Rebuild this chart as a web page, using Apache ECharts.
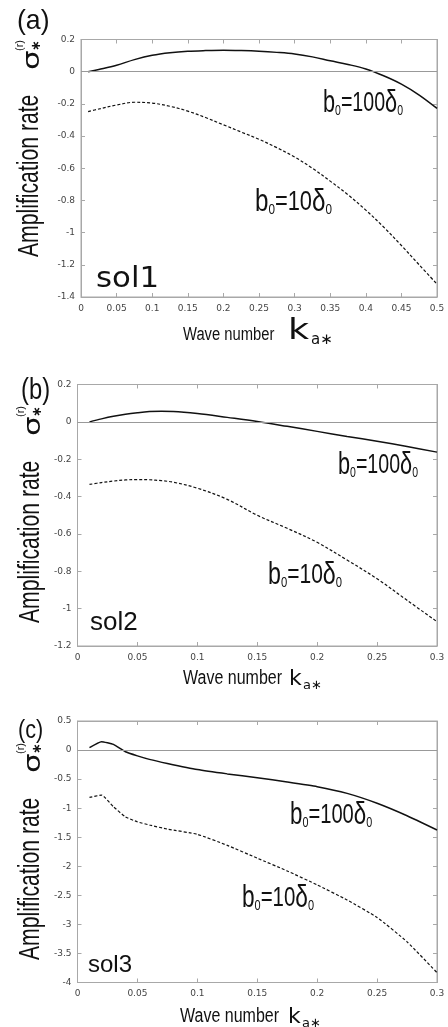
<!DOCTYPE html>
<html><head><meta charset="utf-8">
<script src="https://cdn.jsdelivr.net/npm/echarts@6/dist/echarts.min.js"></script>
<style>html,body{margin:0;padding:0;background:#fff}#c{width:448px;height:1027px}</style>
</head><body><div id="c"></div>
<script>
// ---- data ----
const kA = [0.01,0.025,0.05,0.075,0.1,0.125,0.15,0.175,0.2,0.225,0.25,0.275,0.3,0.325,0.35,0.375,0.4,0.425,0.45,0.475,0.5];
const solA_b100 = [0,0.014,0.040,0.075,0.102,0.118,0.127,0.131,0.133,0.131,0.127,0.120,0.110,0.092,0.068,0.045,0.017,-0.025,-0.077,-0.145,-0.228];
const solA_b10  = [-0.248,-0.232,-0.207,-0.190,-0.195,-0.215,-0.245,-0.285,-0.330,-0.375,-0.420,-0.472,-0.530,-0.600,-0.680,-0.765,-0.860,-0.965,-1.080,-1.200,-1.320];

const kB = [0.01,0.02,0.03,0.04,0.05,0.06,0.07,0.08,0.1,0.125,0.15,0.175,0.2,0.225,0.25,0.275,0.3];
const solB_b100 = [0,0.016,0.030,0.041,0.049,0.055,0.057,0.056,0.045,0.024,0.002,-0.024,-0.051,-0.078,-0.104,-0.132,-0.162];
const solB_b10  = [-0.335,-0.325,-0.317,-0.311,-0.309,-0.310,-0.315,-0.323,-0.355,-0.415,-0.500,-0.570,-0.645,-0.740,-0.840,-0.955,-1.070];

const kC = [0.01,0.02,0.03,0.04,0.05,0.06,0.075,0.1,0.125,0.15,0.175,0.2,0.225,0.25,0.275,0.3];
const solC_b100 = [0.040,0.145,0.098,-0.030,-0.100,-0.160,-0.230,-0.335,-0.410,-0.476,-0.550,-0.630,-0.745,-0.915,-1.130,-1.375];
const solC_b10  = [-0.815,-0.775,-0.975,-1.150,-1.235,-1.290,-1.360,-1.450,-1.640,-1.860,-2.080,-2.320,-2.580,-2.880,-3.300,-3.830];

const panelLabels = ['(a)','(b)','(c)'];
const solLabels = ['sol1','sol2','sol3'];
const curveLabels = ['100','10'];   // b0 = N δ0
const yTitle = 'Amplification rate';
const xTitle = 'Wave number';

// axis ranges [min, max, interval]
const xRanges = [[0,0.5,0.05],[0,0.3,0.05],[0,0.3,0.05]];
const yRanges = [[-1.4,0.2,0.2],[-1.2,0.2,0.2],[-4,0.5,0.5]];

// ---- layout ----
const grids = [
  {left:81, top:39.5, width:356, height:257.5},
  {left:77.5, top:384.5, width:359.5, height:261.5},
  {left:77.5, top:721, width:359.5, height:261.5}
];
const SANS = "'Liberation Sans',Arial,sans-serif";
const DJ = "'DejaVu Sans',sans-serif";
const FRAME = '#a8a8a8';
const INK = '#111';

const xAxis = [], yAxis = [], series = [];
const datasets = [[kA,solA_b100,solA_b10],[kB,solB_b100,solB_b10],[kC,solC_b100,solC_b10]];

grids.forEach((g,i)=>{
  const [x0,x1,xi] = xRanges[i], [y0,y1,yi] = yRanges[i];
  const common = () => ({type:'value', gridIndex:i, splitLine:{show:false},
    axisLine:{show:true, onZero:false, lineStyle:{color:FRAME, width:1}},
    axisTick:{show:true, inside:true, length:4, lineStyle:{color:FRAME}}});
  xAxis.push(Object.assign(common(), {position:'bottom', min:x0, max:x1, interval:xi,
    axisLabel:{show:true, margin:7, fontFamily:DJ, fontSize:9, color:'#444'}}));
  xAxis.push(Object.assign(common(), {position:'top', min:x0, max:x1, interval:xi, axisLabel:{show:false}}));
  yAxis.push(Object.assign(common(), {position:'left', min:y0, max:y1, interval:yi,
    axisLabel:{show:true, margin:6, fontFamily:DJ, fontSize:9, color:'#444'}}));
  yAxis.push(Object.assign(common(), {position:'right', min:y0, max:y1, interval:yi, axisLabel:{show:false}}));
  const [k,s100,s10] = datasets[i];
  series.push({type:'line', xAxisIndex:2*i, yAxisIndex:2*i, data:k.map((v,j)=>[v,s100[j]]),
    showSymbol:false, smooth: i===2 ? 0.15 : 0.35, lineStyle:{color:INK, width:1.5}, silent:true, z:3,
    markLine:{silent:true, symbol:'none', label:{show:false}, lineStyle:{color:'#999', width:1, type:'solid'}, data:[{yAxis:0}]}});
  series.push({type:'line', xAxisIndex:2*i, yAxisIndex:2*i, data:k.map((v,j)=>[v,s10[j]]),
    showSymbol:false, smooth: i===2 ? 0.15 : 0.35, lineStyle:{color:INK, width:1.2, type:[3,2]}, silent:true, z:3});
});

// ---- text elements ----
const graphic = [];
function txt(x, y, text, font, sx, extra){
  graphic.push(Object.assign({type:'text', x:x, y:y, scaleX:sx||1, silent:true,
    style:{text:text, align:'left', verticalAlign:'bottom', fill:INK, font:font}}, extra||{}));
}
function bLabel(x, y, n, sx){
  graphic.push({type:'text', x:x, y:y, scaleX:sx, silent:true, style:{
    text:'{b|b}{s|0}{n|='+n+'}{d|δ}{s|0}', align:'left', verticalAlign:'bottom', fill:INK,
    rich:{
      b:{fontFamily:SANS, fontSize:31, lineHeight:30, fill:INK},
      s:{fontFamily:SANS, fontSize:15, lineHeight:14, verticalAlign:'bottom', fill:INK},
      n:{fontFamily:SANS, fontSize:28, lineHeight:30, fill:INK},
      d:{fontFamily:SANS, fontSize:31, lineHeight:30, fill:INK}
    }}});
}
function yName(x, y){
  graphic.push({type:'group', x:x, y:y, rotation:Math.PI/2, silent:true, children:[
    {type:'text', x:0, y:0, scaleX:0.73, style:{text:yTitle, align:'left', verticalAlign:'middle', fill:INK, font:'29px '+SANS}},
    {type:'text', x:187, y:3, scaleX:1.35, style:{text:'σ', align:'left', verticalAlign:'middle', fill:INK, font:'23px '+DJ}},
    {type:'text', x:206, y:-10, style:{text:'(r)', align:'left', verticalAlign:'middle', fill:INK, font:'11px '+SANS}},
    {type:'text', x:206, y:7, style:{text:'∗', align:'left', verticalAlign:'middle', fill:INK, font:'bold 13px '+DJ}}
  ]});
}
function xName(x, y, wsize, wsx, kx, ksize, ksx, ax, asize){
  txt(x, y, xTitle, wsize+'px '+SANS, wsx);
  txt(kx, y+2, 'k', ksize+'px '+DJ, ksx);
  txt(ax, y+4, 'a∗', asize+'px '+DJ, 1);
}

// panel labels
txt(17, 35, panelLabels[0], "28px "+SANS, 0.95);
txt(21, 405, panelLabels[1], "29px "+SANS, 0.82);
txt(18, 744, panelLabels[2], "26px "+SANS, 0.83);
// sol labels
txt(96, 294, solLabels[0], "28px "+DJ, 1.1);
txt(90, 636, solLabels[1], "26px "+SANS, 1);
txt(88, 977, solLabels[2], "24px "+SANS, 1);
// curve labels
bLabel(323, 118, curveLabels[0], 0.7); bLabel(255, 217, curveLabels[1], 0.78);
bLabel(338, 480, curveLabels[0], 0.7); bLabel(268, 590, curveLabels[1], 0.75);
bLabel(290, 830, curveLabels[0], 0.72); bLabel(242, 913, curveLabels[1], 0.73);
// axis names
yName(30, 257); yName(31, 623); yName(31, 960);
xName(183, 344, 18, 0.82, 288, 28, 1.3, 311, 15);
xName(183, 688, 20, 0.8, 289, 22, 1, 303, 13);
xName(180, 1026, 20, 0.8, 288, 22, 1, 302, 13);

const chart = echarts.init(document.getElementById('c'), null, {renderer:'canvas'});
chart.setOption({animation:false, backgroundColor:'#fff',
  grid: grids.map(g=>Object.assign({show:true, borderColor:FRAME, borderWidth:1, containLabel:false}, g)),
  xAxis, yAxis, series, graphic});
</script></body></html>
